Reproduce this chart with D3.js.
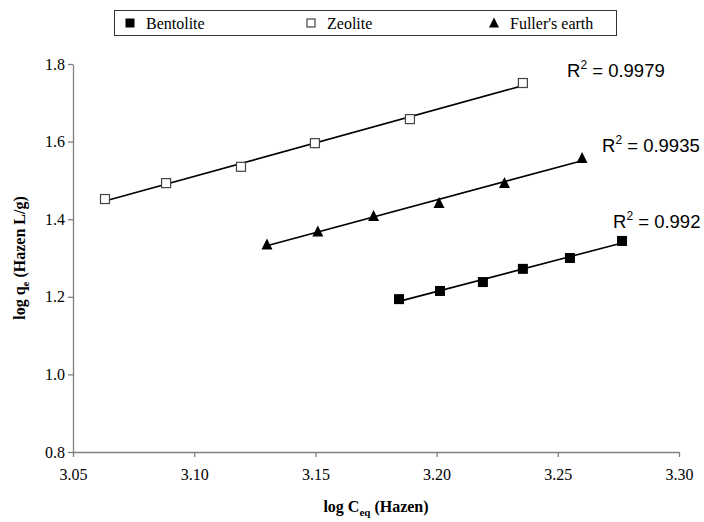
<!DOCTYPE html>
<html>
<head>
<meta charset="utf-8">
<script src="https://cdn.jsdelivr.net/npm/d3@7"></script>
<style>
  body { margin: 0; background: #fff; }
</style>
</head>
<body>
<div id="chart"></div>
<script>
// data
const seriesNames = ["Bentolite", "Zeolite", "Fuller's earth"];
const bentoliteX = [3.1845, 3.2014, 3.2191, 3.2356, 3.2550, 3.2765];
const bentoliteY = [1.194, 1.215, 1.238, 1.272, 1.300, 1.344];
const zeoliteX = [3.0632, 3.0884, 3.1193, 3.1498, 3.1890, 3.2356];
const zeoliteY = [1.452, 1.493, 1.535, 1.596, 1.658, 1.751];
const fullerX = [3.130, 3.151, 3.174, 3.201, 3.228, 3.260];
const fullerY = [1.335, 1.368, 1.408, 1.442, 1.493, 1.558];
const r2Labels = ["0.992", "0.9979", "0.9935"];
const xTicks = [3.05, 3.10, 3.15, 3.20, 3.25, 3.30];
const yTicks = [0.8, 1.0, 1.2, 1.4, 1.6, 1.8];

const width = 704, height = 522;
const margin = {top: 64, right: 25, bottom: 70, left: 73};

const svg = d3.create("svg")
  .attr("width", width)
  .attr("height", height);

const x = d3.scaleLinear().domain([3.05, 3.30]).range([margin.left, width - margin.right]);
const y = d3.scaleLinear().domain([0.8, 1.8]).range([height - margin.bottom, margin.top]);

const serif = "'Liberation Serif', 'Times New Roman', serif";
const sans = "'Liberation Sans', Arial, sans-serif";

// axes
const xAxis = svg.append("g")
  .attr("transform", `translate(0, ${y(0.8)})`)
  .call(d3.axisBottom(x).tickValues(xTicks).tickFormat(d3.format(".2f")).tickSize(5).tickPadding(12).tickSizeOuter(0));
const yAxis = svg.append("g")
  .attr("transform", `translate(${x(3.05)}, 0)`)
  .call(d3.axisLeft(y).tickValues(yTicks).tickFormat(d3.format(".1f")).tickSize(5).tickPadding(3).tickSizeOuter(0));

[xAxis, yAxis].forEach(g => {
  g.attr("font-family", serif);
  g.select(".domain").attr("stroke", "#808080").attr("stroke-width", 1.3);
  g.selectAll(".tick line").attr("stroke", "#808080").attr("stroke-width", 1.3);
  g.selectAll(".tick text").style("font-family", serif).attr("font-size", 16).attr("fill", "#000");
});

// axis titles
const xt = svg.append("text")
  .attr("x", (x(3.05) + x(3.30)) / 2)
  .attr("y", 512)
  .attr("text-anchor", "middle")
  .style("font-family", serif).attr("font-weight", "bold").attr("font-size", 16);
xt.append("tspan").text("log C");
xt.append("tspan").attr("font-size", 11).attr("dy", 4).text("eq");
xt.append("tspan").attr("dy", -4).text(" (Hazen)");

const yt = svg.append("text")
  .attr("transform", `translate(25, ${(y(0.8) + y(1.8)) / 2}) rotate(-90)`)
  .attr("text-anchor", "middle")
  .style("font-family", serif).attr("font-weight", "bold").attr("font-size", 16);
yt.append("tspan").text("log q");
yt.append("tspan").attr("font-size", 11).attr("dy", 4).text("e");
yt.append("tspan").attr("dy", -4).text(" (Hazen L/g)");

// series
const series = [
  {name: seriesNames[0], xs: bentoliteX, ys: bentoliteY, r2: r2Labels[0]},
  {name: seriesNames[1], xs: zeoliteX, ys: zeoliteY, r2: r2Labels[1]},
  {name: seriesNames[2], xs: fullerX, ys: fullerY, r2: r2Labels[2]}
];
const r2Pos = [[613, 228], [567, 77], [602, 152]];

function fit(xs, ys) {
  const mx = d3.mean(xs), my = d3.mean(ys);
  const b = d3.sum(xs, (v, i) => (v - mx) * (ys[i] - my)) / d3.sum(xs, v => (v - mx) * (v - mx));
  return {a: my - b * mx, b: b};
}

function drawMarker(g, name, px, py, s) {
  if (name === "Bentolite") {
    g.append("rect").attr("x", px - s / 2).attr("y", py - s / 2).attr("width", s).attr("height", s)
      .attr("fill", "#000");
  } else if (name === "Zeolite") {
    g.append("rect").attr("x", px - s / 2 + 0.5).attr("y", py - s / 2 + 0.5).attr("width", s - 1).attr("height", s - 1)
      .attr("fill", "#fff").attr("stroke", "#444").attr("stroke-width", 1.2);
  } else {
    g.append("path")
      .attr("d", `M${px},${py - s / 2 - 1}L${px + s / 2 + 0.5},${py + s / 2}L${px - s / 2 - 0.5},${py + s / 2}Z`)
      .attr("fill", "#000");
  }
}

series.forEach((s, k) => {
  const f = fit(s.xs, s.ys);
  const x0 = d3.min(s.xs), x1 = d3.max(s.xs);
  svg.append("line")
    .attr("x1", x(x0)).attr("y1", y(f.a + f.b * x0))
    .attr("x2", x(x1)).attr("y2", y(f.a + f.b * x1))
    .attr("stroke", "#000").attr("stroke-width", 1.6);
  const g = svg.append("g");
  s.xs.forEach((v, i) => drawMarker(g, s.name, x(v), y(s.ys[i]), 10));

  const t = svg.append("text")
    .attr("x", r2Pos[k][0]).attr("y", r2Pos[k][1])
    .style("font-family", sans).attr("font-size", 18.5).attr("fill", "#000");
  t.append("tspan").text("R");
  t.append("tspan").attr("font-size", 12).attr("dy", -8).text("2");
  t.append("tspan").attr("dy", 8).text(" = " + s.r2);
});

// legend
const legend = svg.append("g");
legend.append("rect")
  .attr("x", 114.5).attr("y", 10.5).attr("width", 502).attr("height", 25)
  .attr("fill", "#fff").attr("stroke", "#333").attr("stroke-width", 1);
const legendX = [130, 311, 494];
series.forEach((s, k) => {
  drawMarker(legend, s.name, legendX[k], 23, 9);
  legend.append("text")
    .attr("x", legendX[k] + 16).attr("y", 28.5)
    .style("font-family", serif).attr("font-size", 16).attr("fill", "#000")
    .text(s.name);
});

document.getElementById("chart").appendChild(svg.node());
</script>
</body>
</html>
